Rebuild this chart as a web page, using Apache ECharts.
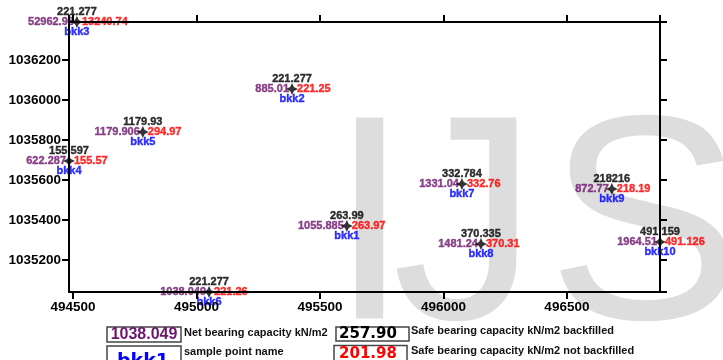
<!DOCTYPE html>
<html>
<head>
<meta charset="utf-8">
<script src="https://cdn.jsdelivr.net/npm/echarts@6/dist/echarts.min.js"></script>
<style>html,body{margin:0;padding:0;background:#fff;}#c{width:723px;height:360px;}</style>
</head>
<body>
<div id="c"></div>
<script>
const names = ['bkk1','bkk2','bkk3','bkk4','bkk5','bkk6','bkk7','bkk8','bkk9','bkk10'];
const eastings = [495609, 495387, 494516, 494484, 494783, 495051, 496075, 496152, 496682, 496877];
const northings = [1035370, 1036055, 1036390, 1035695, 1035840, 1035040, 1035580, 1035280, 1035555, 1035290];
const netBearing = [1055.885, 885.01, 52962.98, 622.287, 1179.906, 1038.049, 1331.04, 1481.24, 872.77, 1964.51];
const safeBackfilled = [263.99, 221.277, 221.277, 155.597, 1179.93, 221.277, 332.784, 370.335, 218216, 491.159];
const safeNotBackfilled = [263.97, 221.25, 13240.74, 155.57, 294.97, 221.26, 332.76, 370.31, 218.19, 491.126];
const legendTexts = ['Net bearing capacity kN/m2','Safe bearing capacity kN/m2 backfilled','sample point name','Safe bearing capacity kN/m2 not backfilled'];
const legendSamples = ['1038.049','257.90','bkk1','201.98'];

const xMin = Math.min(...eastings), xMax = Math.max(...eastings);
const yMin = Math.min(...northings), yMax = Math.max(...northings);

const PURPLE = '#6e166e', RED = '#ff0000', BLUE = '#0000ff', BLACK = '#000';
const FONT = 'Liberation Sans';
const STAR = 'path://M0,-6L1.9,-1.9L6,0L1.9,1.9L0,6L-1.9,1.9L-6,0L-1.9,-1.9Z';

function pts(vals) {
  return eastings.map((e, i) => [e, northings[i], vals[i]]);
}
function labelSeries(vals, color, align, offset, withSymbol, z) {
  return {
    type: 'scatter', silent: true, clip: false, z: z,
    symbol: STAR, symbolSize: 12,
    itemStyle: { color: withSymbol ? '#000' : 'rgba(0,0,0,0)' },
    data: pts(vals),
    encode: { x: 0, y: 1 },
    label: {
      show: true, position: 'inside', align: align, verticalAlign: 'middle',
      offset: offset, color: color, fontFamily: FONT, fontWeight: 'bold', fontSize: 11,
      textBorderWidth: 0.4, textBorderColor: color,
      formatter: p => String(p.value[2])
    },
    emphasis: { disabled: true }
  };
}

function axisCommon(pos, showLabel, min, max, split) {
  return {
    type: 'value', position: pos, min: min, max: max, scale: true, splitNumber: split,
    z: 5,
    axisLine: { show: true, onZero: false, lineStyle: { color: '#000', width: 2 } },
    axisTick: { show: true, inside: false, length: 7, lineStyle: { color: '#000', width: 2 } },
    splitLine: { show: false },
    axisLabel: { show: showLabel, color: '#000', fontFamily: FONT, fontWeight: 'bold', fontSize: 13.5,
      margin: 8, showMinLabel: false, showMaxLabel: false, formatter: v => String(v) }
  };
}

const legendGraphics = [];
function box(x, y, w, h) {
  legendGraphics.push({ type: 'rect', shape: { x: x, y: y, width: w, height: h },
    style: { fill: '#fff', stroke: '#444', lineWidth: 1.5 } });
}
function txt(s, x, y, font, color, align, valign) {
  legendGraphics.push({ type: 'text', x: x, y: y,
    style: { text: s, font: font, fill: color, textAlign: align || 'left', textVerticalAlign: valign || 'middle' } });
}
box(107, 327, 74, 15); txt(legendSamples[0], 144, 335, 'bold 16px "Liberation Sans"', PURPLE, 'center');
txt(legendTexts[0], 184, 333, 'bold 11px "Liberation Sans"', '#111');
box(336, 327, 73, 14); txt(legendSamples[1], 368, 334.5, 'bold 15px "DejaVu Sans"', '#000', 'center');
txt(legendTexts[1], 411, 331, 'bold 11px "Liberation Sans"', '#111');
box(107, 346, 74, 20); txt(legendSamples[2], 143, 362, 'bold 19px "DejaVu Sans"', BLUE, 'center');
txt(legendTexts[2], 184, 352, 'bold 11px "Liberation Sans"', '#111');
box(334, 345.5, 73, 20); txt(legendSamples[3], 368, 354, 'bold 15px "DejaVu Sans"', RED, 'center');
txt(legendTexts[3], 411, 351, 'bold 11px "Liberation Sans"', '#111');

const watermark = [
  { ch: 'I', x: 329 }, { ch: 'J', x: 392 }, { ch: 'S', x: 547 }
].map(w => ({ type: 'text', x: w.x, y: 238, z: -10,
  style: { text: w.ch, font: '292px "Liberation Sans"', fill: '#dddddd', textAlign: 'left', textVerticalAlign: 'middle' } }));

const chart = echarts.init(document.getElementById('c'), null, { renderer: 'canvas' });
chart.setOption({
  animation: false,
  backgroundColor: '#fff',
  grid: { left: 69, right: 63, top: 22, bottom: 68, containLabel: false },
  xAxis: [
    Object.assign(axisCommon('bottom', true, xMin, xMax, 5), { minInterval: 500, maxInterval: 500 }),
    Object.assign(axisCommon('top', false, xMin, xMax, 5), { minInterval: 500, maxInterval: 500 })
  ],
  yAxis: [
    Object.assign(axisCommon('left', true, yMin, yMax, 7), { minInterval: 200, maxInterval: 200 }),
    Object.assign(axisCommon('right', false, yMin, yMax, 7), { minInterval: 200, maxInterval: 200 })
  ],
  graphic: watermark.concat(legendGraphics),
  series: [
    labelSeries(netBearing, PURPLE, 'right', [-3, 0], false, 2),
    labelSeries(safeNotBackfilled, RED, 'left', [5, 0], false, 2),
    labelSeries(names, BLUE, 'center', [0, 10], false, 2),
    labelSeries(safeBackfilled, BLACK, 'center', [0, -10], true, 10)
  ]
});
</script>
</body>
</html>
